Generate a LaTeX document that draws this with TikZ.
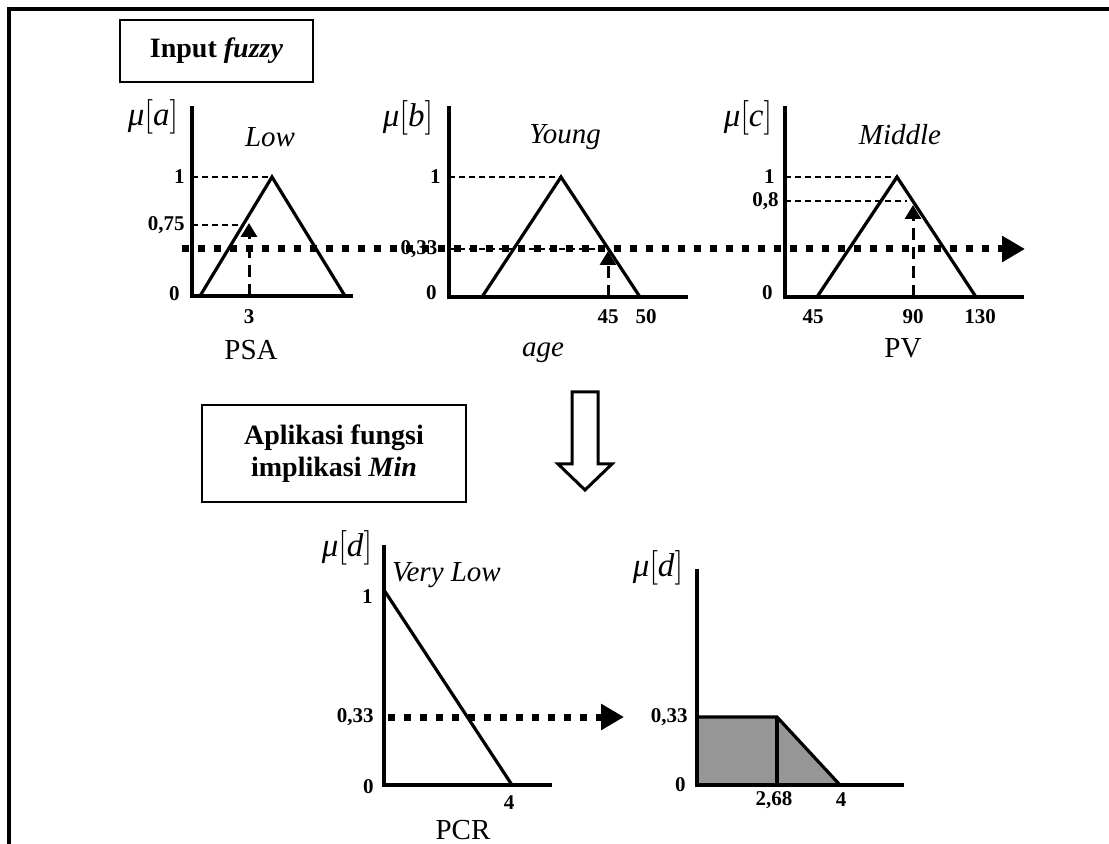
\documentclass[tikz,border=0pt]{standalone}
\usepackage{fontspec}
\setmainfont{Liberation Serif}
\usetikzlibrary{arrows.meta,positioning}
\definecolor{Ink}{HTML}{000000}
\definecolor{Shade}{HTML}{969696}
\tikzset{
  frameline/.style={draw=Ink,line width=2pt},
  titlebox/.style={draw=Ink,line width=1pt,align=center,font=\fontsize{14}{16}\selectfont\bfseries,text=Ink},
  axisline/.style={draw=Ink,line width=1.6pt},
  mfline/.style={draw=Ink,line width=1.6pt,line join=miter},
  guide/.style={draw=Ink,line width=0.6pt,dash pattern=on 3pt off 2pt},
  cutarrow/.style={-{Triangle[length=7pt,width=8pt]},draw=Ink,line width=1.5pt,dash pattern=on 6pt off 3.5pt},
  flowarrow/.style={-{Triangle[length=11.5pt,width=12.5pt]},draw=Ink,line width=3.5pt,dash pattern=on 3.5pt off 4.5pt},
  hollowarrow/.style={draw=Ink,fill=white,line width=1.5pt},
  ticklabel/.style={font=\fontsize{10.5}{12}\selectfont\bfseries,text=Ink,inner sep=1pt},
  axislabel/.style={font=\fontsize{14.5}{16}\selectfont,text=Ink},
  setlabel/.style={font=\fontsize{14.5}{16}\selectfont\itshape,text=Ink},
  mulabel/.style={font=\fontsize{16.5}{18}\selectfont,text=Ink,inner sep=0pt}
}
\newcommand{\mulab}[1]{\textit{μ}$\big[$\textit{#1}$\big]$}

\begin{document}
\begin{tikzpicture}[x=0.5pt,y=-0.5pt]
  \useasboundingbox (0,0) rectangle (1109,844);
  \draw[frameline] (9,844) -- (9,9) -- (1109,9);
  \node[titlebox,minimum width=96.5pt,minimum height=31pt] (inbox) at (216.5,51) {Input \textit{fuzzy}};

  % PSA
  \coordinate (oa) at (192,296);
  \draw[axisline] (192,106) -- (oa) -- (353,296);
  \draw[mfline] (200,296) -- (272,177) -- (345,296);
  \draw[guide] (192,177) -- (272,177);
  \draw[guide] (192,225) -- (243,225);
  \node[mulabel] (mua) at (153,117) {\mulab{a}};
  \node[setlabel] (low) at (270,137) {Low};
  \node[ticklabel,anchor=east] (a1) at (187,177) {1};
  \node[ticklabel,anchor=east] (a075) at (187,225) {0,75};
  \node[ticklabel,anchor=east] (a0) at (182,294) {0};
  \node[ticklabel] (a3) at (249,317) {3};
  \node[axislabel] (psa) at (251,350) {PSA};

  % age
  \coordinate (ob) at (449,297);
  \draw[axisline] (449,106) -- (ob) -- (688,297);
  \draw[mfline] (482,297) -- (561,177) -- (640,297);
  \draw[guide] (449,177) -- (561,177);
  \draw[guide] (449,249) -- (608,249);
  \node[mulabel] (mub) at (408,118) {\mulab{b}};
  \node[setlabel] (young) at (565,137) {Young};
  \node[ticklabel,anchor=east] (b1) at (443,177) {1};
  \node[ticklabel] (b033) at (419,249) {0,33};
  \node[ticklabel,anchor=east] (b0) at (439,293) {0};
  \node[ticklabel] (b45) at (608,317) {45};
  \node[ticklabel] (b50) at (646,317) {50};
  \node[setlabel] (age) at (543,353) {age};

  % PV
  \coordinate (oc) at (785,297);
  \draw[axisline] (785,106) -- (oc) -- (1024,297);
  \draw[mfline] (817,297) -- (897,177) -- (976,297);
  \draw[guide] (785,177) -- (897,177);
  \draw[guide] (785,201) -- (907,201);
  \node[mulabel] (muc) at (748,118) {\mulab{c}};
  \node[setlabel] (middle) at (900,135) {Middle};
  \node[ticklabel,anchor=east] (c1) at (777,177) {1};
  \node[ticklabel,anchor=east] (c08) at (781,201) {0,8};
  \node[ticklabel,anchor=east] (c0) at (775,293) {0};
  \node[ticklabel] (c45) at (813,317) {45};
  \node[ticklabel] (c90) at (913,317) {90};
  \node[ticklabel] (c130) at (980,317) {130};
  \node[axislabel] (pv) at (903,348) {PV};

  % cuts
  \coordinate (cutaS) at (249,296);
  \coordinate (cutaE) at (249,223);
  \coordinate (cutbS) at (608,297);
  \coordinate (cutbE) at (608,251);
  \coordinate (cutcS) at (913,297);
  \coordinate (cutcE) at (913,205);
  \draw[cutarrow] (cutaS) -- (cutaE);
  \draw[cutarrow] (cutbS) -- (cutbE);
  \draw[cutarrow] (cutcS) -- (cutcE);
  \coordinate (minS) at (182,249);
  \coordinate (minE) at (1025,249);
  \draw[flowarrow] (minS) -- (minE);

  % step down
  \draw[hollowarrow] (572,392) -- (598,392) -- (598,464) -- (612,464) -- (585,490)
    -- (558,464) -- (572,464) -- cycle;
  \node[titlebox,minimum width=132pt,minimum height=48.5pt] (implbox) at (334,453.5)
    {Aplikasi fungsi\\implikasi \textit{Min}};

  % PCR
  \coordinate (od) at (384,785);
  \draw[axisline] (384,545) -- (od) -- (552,785);
  \draw[mfline] (384,590) -- (512,785);
  \node[mulabel] (mud) at (347,548) {\mulab{d}};
  \node[setlabel,anchor=west] (vlow) at (385,575) {Very Low};
  \node[ticklabel,anchor=east] (d1) at (375,597) {1};
  \node[ticklabel,anchor=east] (d033) at (376,717) {0,33};
  \node[ticklabel,anchor=east] (d0) at (376,787) {0};
  \node[ticklabel] (d4) at (509,803) {4};
  \node[axislabel] (pcr) at (463,830) {PCR};

  % result
  \coordinate (oe) at (697,785);
  \fill[Shade] (oe) -- (697,717) -- (777,717) -- (840,785) -- cycle;
  \draw[mfline] (697,717) -- (777,717) -- (840,785);
  \draw[mfline] (777,717) -- (777,785);
  \draw[axisline] (697,569) -- (oe) -- (904,785);
  \node[mulabel] (mue) at (658,568) {\mulab{d}};
  \node[ticklabel,anchor=east] (e033) at (690,717) {0,33};
  \node[ticklabel,anchor=east] (e0) at (688,785) {0};
  \node[ticklabel] (e268) at (774,800) {2,68};
  \node[ticklabel] (e4) at (841,800) {4};

  \coordinate (outS) at (388,717);
  \coordinate (outE) at (624,717);
  \draw[flowarrow] (outS) -- (outE);
\end{tikzpicture}
\end{document}
